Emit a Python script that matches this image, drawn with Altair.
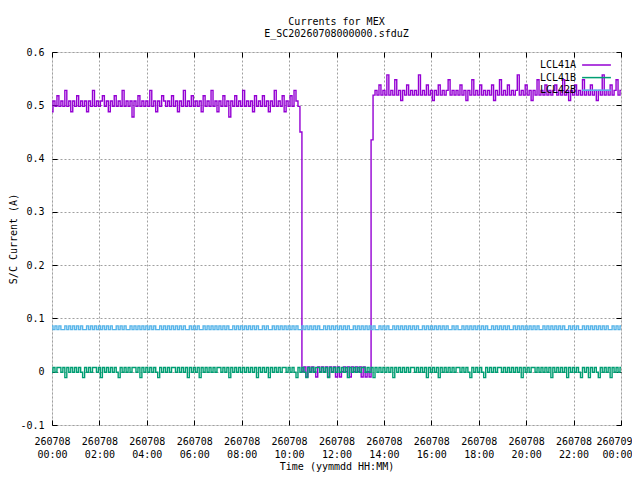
import json
import altair as alt
import pandas as pd

SERIES = ["LCL41A", "LCL41B", "LCL42B"]
COLORS = ["#9400d3", "#009e73", "#56b4e9"]
STEP_MIN = 5  # one sample every 5 minutes, 00:00 .. 24:00

LCL41A = [
    0.488, 0.508, 0.498, 0.518, 0.498, 0.508, 0.498, 0.528, 0.498, 0.508, 0.488, 0.508,  # 00h
    0.498, 0.518, 0.498, 0.508, 0.498, 0.508, 0.488, 0.508, 0.498, 0.528, 0.498, 0.508,  # 01h
    0.498, 0.508, 0.518, 0.498, 0.508, 0.488, 0.508, 0.498, 0.518, 0.498, 0.508, 0.498,  # 02h
    0.528, 0.498, 0.508, 0.498, 0.508, 0.478, 0.508, 0.498, 0.518, 0.498, 0.508, 0.498,  # 03h
    0.508, 0.498, 0.528, 0.498, 0.508, 0.488, 0.508, 0.498, 0.518, 0.508, 0.498, 0.508,  # 04h
    0.498, 0.518, 0.498, 0.508, 0.488, 0.508, 0.498, 0.528, 0.498, 0.508, 0.498, 0.518,  # 05h
    0.498, 0.508, 0.498, 0.508, 0.488, 0.518, 0.498, 0.508, 0.498, 0.528, 0.498, 0.508,  # 06h
    0.488, 0.508, 0.498, 0.518, 0.498, 0.508, 0.478, 0.508, 0.498, 0.518, 0.498, 0.508,  # 07h
    0.498, 0.528, 0.498, 0.508, 0.498, 0.508, 0.488, 0.518, 0.498, 0.508, 0.498, 0.518,  # 08h
    0.498, 0.508, 0.488, 0.508, 0.498, 0.528, 0.498, 0.508, 0.498, 0.518, 0.488, 0.508,  # 09h
    0.498, 0.518, 0.498, 0.528, 0.508, 0.498, 0.450, 0.000, 0.009, -0.010, 0.009, 0.000,  # 10h
    0.009, 0.000, -0.010, 0.009, 0.000, 0.009, 0.000, 0.009, -0.010, 0.009, 0.000, 0.009,  # 11h
    -0.010, 0.009, -0.010, 0.000, 0.009, 0.000, 0.009, -0.010, 0.009, 0.000, 0.009, 0.000,  # 12h
    0.009, -0.010, 0.009, -0.010, 0.000, -0.010, 0.435, 0.519, 0.528, 0.519, 0.538, 0.519,  # 13h
    0.528, 0.519, 0.557, 0.519, 0.528, 0.519, 0.548, 0.519, 0.528, 0.509, 0.528, 0.519,  # 14h
    0.538, 0.519, 0.528, 0.519, 0.528, 0.519, 0.557, 0.519, 0.528, 0.519, 0.538, 0.519,  # 15h
    0.528, 0.509, 0.528, 0.519, 0.538, 0.519, 0.528, 0.519, 0.528, 0.548, 0.519, 0.528,  # 16h
    0.519, 0.528, 0.519, 0.538, 0.519, 0.528, 0.509, 0.528, 0.519, 0.548, 0.519, 0.528,  # 17h
    0.519, 0.538, 0.519, 0.528, 0.519, 0.528, 0.519, 0.538, 0.509, 0.528, 0.519, 0.548,  # 18h
    0.519, 0.528, 0.519, 0.538, 0.519, 0.528, 0.519, 0.528, 0.557, 0.519, 0.528, 0.519,  # 19h
    0.538, 0.519, 0.528, 0.509, 0.528, 0.519, 0.548, 0.519, 0.528, 0.519, 0.538, 0.519,  # 20h
    0.528, 0.519, 0.528, 0.538, 0.519, 0.528, 0.519, 0.548, 0.519, 0.528, 0.509, 0.528,  # 21h
    0.519, 0.538, 0.519, 0.528, 0.519, 0.548, 0.519, 0.528, 0.519, 0.538, 0.519, 0.528,  # 22h
    0.509, 0.528, 0.519, 0.557, 0.519, 0.528, 0.519, 0.538, 0.519, 0.528, 0.548, 0.519,  # 23h
    0.528,
]

LCL41B = [
    -0.001, 0.008, -0.001, 0.008, 0.008, -0.001, 0.008, -0.011, 0.008, -0.001, 0.008, -0.001,  # 00h
    0.008, -0.001, 0.008, -0.001, -0.011, 0.008, -0.001, 0.008, -0.001, 0.008, 0.008, -0.001,  # 01h
    0.008, -0.011, 0.008, -0.001, 0.008, -0.001, 0.008, -0.001, 0.008, -0.001, -0.011, 0.008,  # 02h
    -0.001, 0.008, -0.001, 0.008, -0.001, 0.008, 0.008, -0.001, 0.008, -0.011, 0.008, -0.001,  # 03h
    0.008, -0.001, 0.008, -0.001, 0.008, -0.001, -0.011, 0.008, -0.001, 0.008, -0.001, 0.008,  # 04h
    -0.001, 0.008, 0.008, -0.001, 0.008, -0.001, 0.008, -0.001, 0.008, -0.011, 0.008, -0.001,  # 05h
    0.008, -0.001, 0.008, -0.011, 0.008, -0.001, 0.008, -0.001, 0.008, -0.001, 0.008, -0.001,  # 06h
    0.008, 0.008, -0.001, 0.008, -0.001, 0.008, -0.011, 0.008, -0.001, 0.008, -0.001, 0.008,  # 07h
    -0.001, 0.008, -0.001, 0.008, -0.001, 0.008, -0.001, 0.008, -0.011, 0.008, -0.001, 0.008,  # 08h
    -0.001, 0.008, -0.011, 0.008, -0.001, 0.008, -0.001, 0.008, -0.001, 0.008, 0.008, -0.001,  # 09h
    0.008, -0.001, 0.008, -0.001, -0.011, 0.008, -0.001, 0.008, -0.001, -0.011, 0.008, -0.001,  # 10h
    0.008, -0.001, 0.008, 0.008, -0.001, 0.008, -0.001, 0.008, -0.011, 0.008, -0.001, 0.008,  # 11h
    -0.001, 0.008, -0.001, 0.008, -0.001, 0.008, -0.011, 0.008, -0.001, 0.008, -0.001, 0.008,  # 12h
    -0.001, 0.008, 0.008, -0.001, 0.008, -0.001, 0.008, -0.011, 0.008, -0.001, 0.008, -0.001,  # 13h
    0.008, -0.001, 0.008, -0.001, 0.008, -0.011, 0.008, -0.001, 0.008, -0.001, 0.008, -0.001,  # 14h
    0.008, -0.001, 0.008, 0.008, -0.001, 0.008, -0.001, 0.008, -0.001, 0.008, -0.011, 0.008,  # 15h
    -0.001, 0.008, -0.001, 0.008, -0.011, 0.008, -0.001, 0.008, -0.001, 0.008, -0.001, 0.008,  # 16h
    -0.001, 0.008, 0.008, -0.001, 0.008, -0.001, 0.008, -0.001, -0.011, 0.008, -0.001, 0.008,  # 17h
    -0.001, 0.008, -0.001, -0.011, 0.008, -0.001, 0.008, -0.001, 0.008, -0.001, 0.008, 0.008,  # 18h
    -0.001, 0.008, -0.001, 0.008, -0.001, 0.008, -0.001, 0.008, -0.001, 0.008, -0.011, 0.008,  # 19h
    -0.001, 0.008, -0.001, 0.008, 0.008, -0.001, 0.008, -0.001, 0.008, -0.001, 0.008, -0.001,  # 20h
    0.008, -0.011, 0.008, -0.001, 0.008, -0.001, 0.008, -0.001, 0.008, -0.011, 0.008, -0.001,  # 21h
    0.008, -0.001, 0.008, -0.001, -0.011, 0.008, -0.001, 0.008, -0.011, 0.008, -0.001, 0.008,  # 22h
    -0.001, -0.011, 0.008, -0.001, 0.008, -0.001, 0.008, -0.011, 0.008, -0.001, 0.008, -0.001,  # 23h
    0.008,
]

LCL42B = [
    0.086, 0.079, 0.086, 0.079, 0.086, 0.079, 0.079, 0.086, 0.079, 0.086, 0.079, 0.086,  # 00h
    0.079, 0.086, 0.079, 0.086, 0.079, 0.079, 0.086, 0.079, 0.086, 0.079, 0.086, 0.079,  # 01h
    0.086, 0.079, 0.086, 0.079, 0.086, 0.079, 0.086, 0.079, 0.079, 0.086, 0.079, 0.086,  # 02h
    0.079, 0.086, 0.079, 0.079, 0.086, 0.079, 0.086, 0.079, 0.086, 0.079, 0.086, 0.079,  # 03h
    0.086, 0.079, 0.086, 0.079, 0.086, 0.079, 0.079, 0.086, 0.079, 0.086, 0.079, 0.086,  # 04h
    0.079, 0.086, 0.079, 0.086, 0.079, 0.086, 0.079, 0.086, 0.079, 0.079, 0.086, 0.079,  # 05h
    0.086, 0.079, 0.086, 0.079, 0.079, 0.086, 0.079, 0.086, 0.079, 0.086, 0.079, 0.086,  # 06h
    0.079, 0.086, 0.079, 0.086, 0.079, 0.086, 0.079, 0.079, 0.086, 0.079, 0.086, 0.079,  # 07h
    0.086, 0.079, 0.086, 0.079, 0.086, 0.079, 0.086, 0.079, 0.086, 0.079, 0.079, 0.086,  # 08h
    0.079, 0.086, 0.079, 0.079, 0.086, 0.079, 0.086, 0.079, 0.086, 0.079, 0.086, 0.079,  # 09h
    0.086, 0.079, 0.086, 0.079, 0.086, 0.079, 0.079, 0.086, 0.079, 0.086, 0.079, 0.086,  # 10h
    0.079, 0.086, 0.079, 0.086, 0.079, 0.079, 0.086, 0.079, 0.086, 0.079, 0.086, 0.079,  # 11h
    0.086, 0.079, 0.086, 0.079, 0.086, 0.079, 0.086, 0.079, 0.079, 0.086, 0.079, 0.086,  # 12h
    0.079, 0.086, 0.079, 0.086, 0.079, 0.086, 0.079, 0.086, 0.079, 0.079, 0.086, 0.079,  # 13h
    0.086, 0.079, 0.086, 0.079, 0.079, 0.086, 0.079, 0.086, 0.079, 0.086, 0.079, 0.086,  # 14h
    0.079, 0.086, 0.079, 0.086, 0.079, 0.086, 0.079, 0.079, 0.086, 0.079, 0.086, 0.079,  # 15h
    0.086, 0.079, 0.086, 0.079, 0.086, 0.079, 0.086, 0.079, 0.086, 0.079, 0.079, 0.086,  # 16h
    0.079, 0.086, 0.079, 0.079, 0.086, 0.079, 0.086, 0.079, 0.086, 0.079, 0.086, 0.079,  # 17h
    0.086, 0.079, 0.086, 0.079, 0.086, 0.079, 0.079, 0.086, 0.079, 0.086, 0.079, 0.086,  # 18h
    0.079, 0.086, 0.079, 0.086, 0.079, 0.079, 0.086, 0.079, 0.086, 0.079, 0.086, 0.079,  # 19h
    0.086, 0.079, 0.086, 0.079, 0.086, 0.079, 0.086, 0.079, 0.079, 0.086, 0.079, 0.086,  # 20h
    0.079, 0.086, 0.079, 0.086, 0.079, 0.086, 0.079, 0.086, 0.079, 0.079, 0.086, 0.079,  # 21h
    0.086, 0.079, 0.086, 0.079, 0.079, 0.086, 0.079, 0.086, 0.079, 0.086, 0.079, 0.086,  # 22h
    0.079, 0.086, 0.079, 0.086, 0.079, 0.086, 0.079, 0.079, 0.086, 0.079, 0.086, 0.079,  # 23h
    0.086,
]

X_TICKS = [0, 2, 4, 6, 8, 10, 12, 14, 16, 18, 20, 22, 24]
X_TICK_LABELS = [
    ["260708", "00:00"], ["260708", "02:00"], ["260708", "04:00"], ["260708", "06:00"],
    ["260708", "08:00"], ["260708", "10:00"], ["260708", "12:00"], ["260708", "14:00"],
    ["260708", "16:00"], ["260708", "18:00"], ["260708", "20:00"], ["260708", "22:00"],
    ["260709", "00:00"],
]
Y_TICKS = [-0.1, 0.0, 0.1, 0.2, 0.3, 0.4, 0.5, 0.6]
Y_TICK_LABELS = ["-0.1", "0", "0.1", "0.2", "0.3", "0.4", "0.5", "0.6"]

TITLE = ["Currents for MEX", "E_SC20260708000000.sfduZ"]
X_TITLE = "Time (yymmdd HH:MM)"
Y_TITLE = "S/C Current (A)"

rows = []
for name, vals in zip(SERIES, [LCL41A, LCL41B, LCL42B]):
    for i, v in enumerate(vals):
        rows.append({"t": i * STEP_MIN / 60.0, "series": name, "value": v, "idx": i})
df = pd.DataFrame(rows)

FONT = "DejaVu Sans Mono"
x_label_expr = json.dumps(X_TICK_LABELS) + "[round(datum.value / 2)]"
y_label_expr = json.dumps(Y_TICK_LABELS) + "[round(datum.value * 10) + 1]"

xscale = alt.Scale(domain=[0, 24], nice=False, zero=False)
yscale = alt.Scale(domain=[-0.1, 0.6], nice=False, zero=False)

grid_common = dict(grid=True, gridColor="#a0a0a0", gridDash=[2, 2], gridWidth=1,
                   ticks=False, domain=False, labelFont=FONT, labelFontSize=10,
                   labelColor="black", labelFlush=False, labelOverlap=False,
                   titleFont=FONT, titleFontSize=10, titleFontWeight="normal",
                   titleColor="black")

main_x_axis = alt.Axis(
    values=X_TICKS, labelExpr=x_label_expr, labelLineHeight=13, labelPadding=11,
    labelAlign={"condition": {"test": "datum.value >= 24", "value": "right"}, "value": "center"},
    labelOffset={"condition": {"test": "datum.value >= 24", "value": 11}, "value": 0},
    title=X_TITLE, titlePadding=2, **grid_common)
main_y_axis = alt.Axis(values=Y_TICKS, labelExpr=y_label_expr, labelPadding=8,
                       title=Y_TITLE, titlePadding=1, **grid_common)

tick_common = dict(labels=False, domain=False, grid=False, ticks=True, tickColor="black",
                   tickSize=5, tickWidth=1, offset=-5, title=None)

lines = alt.Chart(df).mark_line(strokeWidth=1.4, interpolate="step").encode(
    x=alt.X("t:Q", scale=xscale, axis=main_x_axis),
    y=alt.Y("value:Q", scale=yscale, axis=main_y_axis),
    color=alt.Color(
        "series:N",
        scale=alt.Scale(domain=SERIES, range=COLORS),
        legend=alt.Legend(
            title=None, orient="none", legendX=499.5, legendY=8,
            symbolType="M-3.6,0H3.6", symbolSize=64, symbolStrokeWidth=1.5,
            labelFont=FONT, labelFontSize=10, labelColor="black",
            labelAlign="right", symbolOffset=40, labelOffset={"expr": "-25.5"},
            rowPadding=2.6, padding=0,
        ),
    ),
    order="idx:Q",
)

ticks_bl = alt.Chart(df).mark_point(opacity=0).encode(
    x=alt.X("t:Q", scale=xscale, axis=alt.Axis(values=X_TICKS, orient="bottom", **tick_common)),
    y=alt.Y("value:Q", scale=yscale, axis=alt.Axis(values=Y_TICKS, orient="left", **tick_common)),
)
ticks_tr = alt.Chart(df).mark_point(opacity=0).encode(
    x=alt.X("t:Q", scale=xscale, axis=alt.Axis(values=X_TICKS, orient="top", **tick_common)),
    y=alt.Y("value:Q", scale=yscale, axis=alt.Axis(values=Y_TICKS, orient="right", **tick_common)),
)

chart = alt.layer(lines, ticks_bl, ticks_tr).resolve_axis(
    x="independent", y="independent"
).properties(
    width=569, height=373,
    title=alt.TitleParams(TITLE, font=FONT, fontSize=10, fontWeight="normal",
                          color="black", anchor="middle", offset=8, lineHeight=12.5),
    autosize=alt.AutoSizeParams(type="none"),
    padding={"left": 44, "top": 44, "right": 11, "bottom": 47},
).configure_view(stroke="black", strokeWidth=1).configure(background="white")

chart.save("out.html", embed_options={"renderer": "svg", "actions": False})
